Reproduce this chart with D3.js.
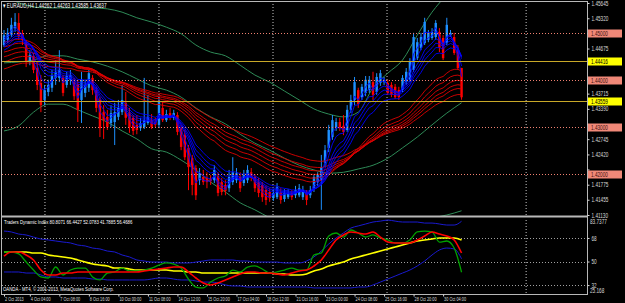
<!DOCTYPE html>
<html><head><meta charset="utf-8">
<script src="https://cdn.jsdelivr.net/npm/d3@7/dist/d3.min.js"></script>
<style>
html,body{margin:0;padding:0;background:#000;}
svg{display:block;}
text{font-family:"Liberation Sans",Arial,sans-serif;}
</style></head><body>
<svg id="c" width="625" height="303"></svg>
<script>
// ---------------- DATA ----------------
const titleText = "\u25BE EURAUD,H4  1.44262 1.44263 1.43585 1.43637";
const tdiTitle = "Traders Dynamic Index 80.8071 66.4427 52.0783 41.7885 56.4686";
const brokerText = "OANDA - MT4, \u00A9 2001-2013, MetaQuotes Software Corp.";

// H4 candles [open, high, low, close]
const candles = [
[1.4475,1.4507,1.4471,1.4496],[1.4486,1.4511,1.4479,1.4501],[1.4496,1.4533,1.4492,1.4518],[1.4511,1.4543,1.4503,1.4524],
[1.4522,1.4543,1.4486,1.4494],[1.4499,1.4507,1.4475,1.4486],[1.4481,1.4486,1.4428,1.4439],[1.4439,1.4464,1.4432,1.4454],
[1.4452,1.4458,1.4415,1.4422],[1.4426,1.4439,1.4379,1.4390],[1.4394,1.4411,1.4332,1.4347],[1.4358,1.4390,1.4347,1.4379],
[1.4375,1.4401,1.4366,1.4390],[1.4384,1.4422,1.4375,1.4411],[1.4405,1.4443,1.4390,1.4418],[1.4405,1.4464,1.4396,1.4422],
[1.4405,1.4411,1.4366,1.4373],[1.4390,1.4418,1.4384,1.4409],[1.4401,1.4422,1.4390,1.4411],[1.4396,1.4405,1.4358,1.4366],
[1.4392,1.4401,1.4311,1.4337],[1.4358,1.4418,1.4309,1.4401],[1.4373,1.4401,1.4364,1.4390],[1.4384,1.4422,1.4375,1.4415],
[1.4405,1.4411,1.4369,1.4379],[1.4379,1.4386,1.4332,1.4341],[1.4358,1.4364,1.4279,1.4298],[1.4332,1.4347,1.4275,1.4315],
[1.4322,1.4337,1.4294,1.4300],[1.4309,1.4347,1.4300,1.4330],[1.4311,1.4352,1.4262,1.4332],[1.4322,1.4358,1.4315,1.4341],
[1.4332,1.4390,1.4326,1.4358],[1.4352,1.4375,1.4305,1.4320],[1.4330,1.4341,1.4288,1.4300],[1.4320,1.4326,1.4283,1.4292],
[1.4305,1.4326,1.4285,1.4294],[1.4298,1.4320,1.4292,1.4309],[1.4300,1.4405,1.4296,1.4315],[1.4309,1.4369,1.4305,1.4322],
[1.4315,1.4328,1.4296,1.4300],[1.4311,1.4320,1.4300,1.4305],[1.4305,1.4364,1.4298,1.4354],[1.4341,1.4354,1.4311,1.4315],
[1.4315,1.4337,1.4311,1.4328],[1.4330,1.4341,1.4315,1.4320],[1.4320,1.4337,1.4315,1.4330],[1.4326,1.4332,1.4283,1.4290],
[1.4298,1.4305,1.4251,1.4258],[1.4283,1.4294,1.4230,1.4236],[1.4256,1.4262,1.4166,1.4215],[1.4234,1.4241,1.4155,1.4177],
[1.4213,1.4219,1.4145,1.4155],[1.4187,1.4213,1.4177,1.4202],[1.4194,1.4209,1.4177,1.4183],[1.4192,1.4204,1.4170,1.4183],
[1.4190,1.4198,1.4177,1.4185],[1.4187,1.4219,1.4181,1.4209],[1.4196,1.4204,1.4153,1.4160],[1.4183,1.4192,1.4155,1.4162],
[1.4177,1.4187,1.4155,1.4164],[1.4170,1.4209,1.4162,1.4194],[1.4183,1.4236,1.4177,1.4204],[1.4187,1.4213,1.4181,1.4202],
[1.4194,1.4204,1.4162,1.4170],[1.4181,1.4209,1.4175,1.4198],[1.4187,1.4219,1.4181,1.4209],[1.4204,1.4213,1.4185,1.4192],
[1.4194,1.4200,1.4162,1.4170],[1.4183,1.4192,1.4151,1.4160],[1.4177,1.4183,1.4141,1.4151],[1.4166,1.4175,1.4134,1.4145],
[1.4162,1.4170,1.4141,1.4149],[1.4149,1.4168,1.4143,1.4160],[1.4151,1.4181,1.4147,1.4173],[1.4162,1.4170,1.4137,1.4145],
[1.4147,1.4168,1.4141,1.4160],[1.4151,1.4168,1.4147,1.4160],[1.4160,1.4166,1.4145,1.4151],[1.4155,1.4175,1.4149,1.4166],
[1.4155,1.4179,1.4151,1.4170],[1.4151,1.4175,1.4145,1.4166],[1.4160,1.4166,1.4134,1.4145],[1.4155,1.4175,1.4149,1.4166],
[1.4170,1.4198,1.4162,1.4194],[1.4183,1.4204,1.4175,1.4198],[1.4187,1.4241,1.4124,1.4215],[1.4224,1.4262,1.4215,1.4251],
[1.4256,1.4305,1.4247,1.4294],[1.4279,1.4326,1.4273,1.4315],[1.4298,1.4320,1.4292,1.4311],[1.4311,1.4320,1.4292,1.4298],
[1.4303,1.4326,1.4283,1.4290],[1.4294,1.4347,1.4290,1.4337],[1.4337,1.4369,1.4330,1.4358],[1.4358,1.4407,1.4347,1.4396],
[1.4379,1.4384,1.4341,1.4349],[1.4364,1.4392,1.4358,1.4386],[1.4373,1.4409,1.4366,1.4401],[1.4379,1.4409,1.4373,1.4401],
[1.4396,1.4418,1.4358,1.4369],[1.4375,1.4415,1.4369,1.4407],[1.4394,1.4422,1.4388,1.4415],[1.4396,1.4407,1.4390,1.4401],
[1.4394,1.4401,1.4369,1.4373],[1.4390,1.4396,1.4364,1.4369],[1.4386,1.4392,1.4360,1.4364],[1.4379,1.4386,1.4358,1.4364],
[1.4379,1.4411,1.4375,1.4405],[1.4396,1.4426,1.4390,1.4418],[1.4401,1.4447,1.4396,1.4439],[1.4422,1.4501,1.4418,1.4492],
[1.4447,1.4490,1.4443,1.4481],[1.4469,1.4501,1.4464,1.4492],[1.4479,1.4533,1.4475,1.4524],[1.4486,1.4507,1.4481,1.4501],
[1.4490,1.4511,1.4486,1.4503],[1.4492,1.4528,1.4486,1.4522],[1.4503,1.4511,1.4460,1.4469],[1.4490,1.4496,1.4443,1.4447],
[1.4479,1.4533,1.4475,1.4518],[1.4496,1.4507,1.4492,1.4501],[1.4492,1.4501,1.4454,1.4458],[1.4464,1.4475,1.4422,1.4426],
[1.44262,1.44263,1.43585,1.43637]
];

// Guppy-style moving average ribbons (periods) and their values at the first visible bar
const bluePeriods = [3,5,8,10,12,15];
const blueStart   = [1.4490,1.4486,1.4479,1.4475,1.4471,1.4464];
const redPeriods  = [30,35,40,45,50,60];
const redStart    = [1.4481,1.4471,1.4460,1.4450,1.4439,1.4424];

// Bollinger bands, read every 4 bars
const bbStep = 4;
const bbUpper  = [1.4579,1.4565,1.4556,1.4554,1.4554,1.4554,1.4554,1.4552,1.4545,1.4533,1.4524,1.4513,1.4499,1.4475,1.4460,1.4452,
                  1.4432,1.4411,1.4396,1.4377,1.4358,1.4339,1.4328,1.4322,1.4332,1.4384,1.4415,1.4443,1.4496,1.4545,1.4582,1.4614];
const bbMiddle = [1.4437,1.4439,1.4443,1.4452,1.4452,1.4445,1.4439,1.4430,1.4418,1.4403,1.4388,1.4379,1.4364,1.4341,1.4322,1.4307,
                  1.4285,1.4266,1.4251,1.4234,1.4219,1.4209,1.4202,1.4204,1.4211,1.4219,1.4234,1.4256,1.4279,1.4305,1.4330,1.4352];
const bbLower  = [1.4292,1.4303,1.4332,1.4349,1.4349,1.4337,1.4324,1.4311,1.4292,1.4275,1.4254,1.4247,1.4230,1.4209,1.4183,1.4162,
                  1.4139,1.4124,1.4107,1.4092,1.4081,1.4077,1.4077,1.4081,1.4085,1.4090,1.4092,1.4098,1.4102,1.4107,1.4113,1.4122];

// horizontal objects
const roundLevels  = [1.45000,1.44000,1.43000,1.42000];
const yellowLevels = [1.44416,1.43559];

// price axis
const priceTickLabels = ["1.45645","1.45320","1.45000","1.44675","1.44355","1.44035","1.43715","1.43390","1.43065","1.42745","1.42420","1.42100","1.41775","1.41455","1.41130"];
// time axis
const timeTickBars = [0,7,15,23,31,39,47,55,63,71,79,87,95,103,111,119];
const timeLabels = ["2 Oct 2013","4 Oct 04:00","7 Oct 08:00","8 Oct 16:00","10 Oct 00:00","11 Oct 08:00","14 Oct 12:00","15 Oct 20:00","17 Oct 04:00","18 Oct 12:00","21 Oct 16:00","23 Oct 00:00","24 Oct 08:00","25 Oct 16:00","28 Oct 20:00","30 Oct 04:00"];
const gridBars = [11.1,42,72.9,103.8,141.5];

// Traders Dynamic Index (read every 2 bars)
const tdiStep = 2;
const tdiUpper = [73.3,72.6,71.0,70.3,68.7,67.2,66.5,65.7,64.9,64.2,62.6,61.9,60.3,59.6,58.0,57.3,55.0,53.5,51.2,50.4,
                  49.6,49.6,49.6,48.9,48.9,48.9,49.6,50.4,51.2,51.2,51.2,51.2,50.4,50.4,49.6,49.6,49.6,49.6,48.9,48.9,
                  48.9,50.4,53.5,58.0,63.4,68.0,71.8,75.6,77.2,78.7,80.2,80.9,81.7,80.9,80.2,80.2,80.2,79.4,79.4,78.7,77.9,77.9,80.8];
const tdiLower = [42.0,42.0,42.0,41.2,41.2,39.7,38.2,38.2,37.4,37.4,37.4,37.4,36.6,36.6,35.9,35.9,35.9,35.9,35.9,35.9,
                  36.6,37.4,37.4,36.6,35.9,35.9,35.1,34.3,34.3,33.6,32.1,31.3,31.3,30.5,30.5,30.5,30.5,30.5,30.5,30.5,
                  30.5,30.5,29.8,29.8,29.8,29.8,29.8,29.8,30.5,30.5,32.1,34.3,36.6,38.9,41.2,43.5,46.6,50.4,55.0,58.8,60.3,59.6,52.1];
const tdiBase  = [57.3,57.3,57.3,57.3,56.5,56.5,55.0,54.2,53.5,52.7,51.2,49.6,48.1,47.3,46.6,45.0,45.0,44.3,43.5,43.5,
                  43.5,43.5,43.5,42.8,42.8,42.0,42.0,41.2,41.2,41.2,41.2,41.2,41.2,41.2,41.2,41.2,41.2,40.5,40.5,39.7,
                  39.7,40.5,42.8,44.3,46.6,48.1,49.6,51.9,53.5,55.0,56.5,58.0,59.6,61.1,62.6,64.2,65.7,66.5,67.2,68.0,68.0,68.0,66.4];
const tdiSignal= [54.2,57.3,57.3,55.0,51.2,43.5,39.7,39.7,41.2,41.2,42.0,42.0,42.0,42.0,42.0,42.0,42.0,42.0,42.0,42.8,
                  43.5,44.3,45.0,45.8,45.8,42.0,37.4,33.6,32.1,33.6,35.9,38.2,40.5,42.0,42.0,41.2,41.2,40.5,39.7,41.2,
                  42.8,43.5,46.6,51.2,58.8,66.5,70.3,72.6,71.8,71.0,72.6,68.7,64.9,64.2,64.2,64.2,66.5,69.5,72.6,71.0,69.5,66.5,56.5];
const tdiRsi   = [57.3,57.3,55.8,49.6,43.5,38.2,37.4,45.8,39.7,43.5,45.0,45.0,38.2,35.9,41.2,42.0,45.0,42.8,42.8,43.5,
                  45.0,47.3,48.9,48.1,45.0,36.6,30.5,29.8,34.3,37.4,38.9,43.5,42.0,45.8,46.6,44.3,41.2,42.0,43.5,45.0,
                  43.5,43.5,55.0,56.5,69.5,71.8,68.7,74.1,71.8,68.7,70.3,68.0,66.5,64.2,64.2,66.5,72.6,73.3,72.6,64.9,65.7,60.3,41.8];
const tdiLevels = [68,50,32];
const tdiMax = 83.7377, tdiMin = 25.168;

// ---------------- DRAW ----------------
const svg = d3.select("#c");
const fg = "#d8d8d8";
const FS = 6.5, SQ = 0.72;      // font size and horizontal squeeze of MT4-like narrow text
// narrow the text horizontally by a transform anchored at the text's own x
function squeeze(sel, k){
  sel.each(function(){
    const el = d3.select(this);
    const X = +(el.attr("x")||0);
    el.attr("transform",`translate(${X*(1-k)},0) scale(${k},1)`);
  });
  return sel;
}
svg.append("rect").attr("width",625).attr("height",303).attr("fill","#000");

const axisX = 587, mainTop = 1, mainBot = 216, subTop = 217, subBot = 294;
const x = d3.scaleLinear().domain([0,158]).range([4, 4+3.69*158]);
const y = d3.scaleLinear().domain([1.41130,1.45645]).range([215,3]);
const ys = d3.scaleLinear().domain([tdiMin,tdiMax]).range([294,217.4]);

const defs = svg.append("defs");
defs.append("clipPath").attr("id","mclip").append("rect").attr("x",2).attr("y",2).attr("width",axisX-2).attr("height",mainBot-2);
defs.append("clipPath").attr("id","sclip").append("rect").attr("x",2).attr("y",subTop+1).attr("width",axisX-2).attr("height",subBot-subTop-1);

const main = svg.append("g").attr("clip-path","url(#mclip)");
const sub = svg.append("g").attr("clip-path","url(#sclip)");

// vertical grid (dotted)
[[main,mainTop,mainBot],[sub,subTop,subBot]].forEach(([g,t,b])=>{
  g.selectAll(null).data(gridBars).enter().append("line")
   .attr("x1",d=>x(d)).attr("x2",d=>x(d)).attr("y1",t).attr("y2",b)
   .attr("stroke","#c8c8c8").attr("stroke-width",1).attr("stroke-dasharray","1,2");
});

// Bollinger bands
const lineI = (step, sc) => d3.line().x((d,i)=>x(i*step)).y(d=>sc(d));
[bbUpper,bbMiddle,bbLower].forEach(arr=>{
  main.append("path").attr("d",lineI(bbStep,y).curve(d3.curveMonotoneX)(arr)).attr("fill","none").attr("stroke","#2e8b57").attr("stroke-width",1);
});

// candles
const cg = main.append("g");
candles.forEach((c,i)=>{
  const [o,h,l,cl] = c;
  const col = cl>=o ? "#1e90ff" : "#ff0000";
  cg.append("line").attr("x1",x(i)).attr("x2",x(i)).attr("y1",y(h)).attr("y2",y(l)).attr("stroke",col).attr("stroke-width",1);
  const top = y(Math.max(o,cl)), bot = y(Math.min(o,cl));
  cg.append("rect").attr("x",x(i)-1.2).attr("width",2.4).attr("y",top).attr("height",Math.max(0.8,bot-top)).attr("fill",col);
});

// ribbons (EMA of closes, continued from the values at the first visible bar)
const closes = candles.map(c=>c[3]);
function ema(period, start){
  const a = 2/(period+1); const out=[start];
  for(let i=1;i<closes.length;i++) out.push(out[i-1]+a*(closes[i]-out[i-1]));
  return out;
}
const line1 = d3.line().x((d,i)=>x(i)).y(d=>y(d));
redPeriods.forEach((p,k)=>{
  main.append("path").attr("d",line1(ema(p,redStart[k]))).attr("fill","none").attr("stroke","#e00000").attr("stroke-width",0.9);
});
bluePeriods.forEach((p,k)=>{
  main.append("path").attr("d",line1(ema(p,blueStart[k]))).attr("fill","none").attr("stroke","#0000ff").attr("stroke-width",0.9);
});

// horizontal objects
main.selectAll(null).data(roundLevels).enter().append("line")
  .attr("x1",2).attr("x2",axisX).attr("y1",d=>Math.round(y(d))+0.5).attr("y2",d=>Math.round(y(d))+0.5)
  .attr("stroke","#f08070").attr("stroke-width",1).attr("stroke-dasharray","1,2");
main.selectAll(null).data(yellowLevels).enter().append("line")
  .attr("x1",2).attr("x2",axisX).attr("y1",d=>Math.round(y(d))+0.5).attr("y2",d=>Math.round(y(d))+0.5)
  .attr("stroke","#c8a828").attr("stroke-width",1.2);

// TDI
sub.selectAll(null).data(tdiLevels).enter().append("line")
  .attr("x1",2).attr("x2",axisX).attr("y1",d=>Math.round(ys(d))+0.5).attr("y2",d=>Math.round(ys(d))+0.5)
  .attr("stroke","#a0a0a0").attr("stroke-dasharray","1,2");
const tl = lineI(tdiStep, ys).curve(d3.curveMonotoneX);
sub.append("path").attr("d",tl(tdiUpper)).attr("fill","none").attr("stroke","#1a1ad0").attr("stroke-width",1);
sub.append("path").attr("d",tl(tdiLower)).attr("fill","none").attr("stroke","#1a1ad0").attr("stroke-width",1);
sub.append("path").attr("d",tl(tdiBase)).attr("fill","none").attr("stroke","#ffff00").attr("stroke-width",1.6);
sub.append("path").attr("d",tl(tdiRsi)).attr("fill","none").attr("stroke","#00a000").attr("stroke-width",1.3);
sub.append("path").attr("d",tl(tdiSignal)).attr("fill","none").attr("stroke","#ff0000").attr("stroke-width",1.6);

// frame
const frame = svg.append("g").attr("stroke","#b8b8b8").attr("fill","none");
frame.append("line").attr("x1",1).attr("x2",axisX).attr("y1",1.5).attr("y2",1.5);
frame.append("line").attr("x1",1.5).attr("x2",1.5).attr("y1",1).attr("y2",subBot);
frame.append("line").attr("x1",1).attr("x2",axisX).attr("y1",216.5).attr("y2",216.5).attr("stroke-width",2);
frame.append("line").attr("x1",1).attr("x2",axisX).attr("y1",subBot+0.5).attr("y2",subBot+0.5);
frame.append("line").attr("x1",axisX+0.5).attr("x2",axisX+0.5).attr("y1",1).attr("y2",subBot+1);

// price axis (labels hidden behind the level tags are not printed)
const tagYs = roundLevels.concat(yellowLevels).map(v=>y(v));
const pa = svg.append("g").attr("transform",`translate(${axisX+0.5},0)`)
  .call(d3.axisRight(y).tickValues(priceTickLabels.map(Number)).tickSize(2).tickPadding(2)
        .tickFormat((d,i)=>priceTickLabels[i]));
pa.select(".domain").remove();
pa.selectAll("line").attr("stroke",fg);
pa.selectAll("text").attr("fill",fg).attr("font-size",FS).attr("font-family",null)
  .attr("display",d=>tagYs.some(t=>Math.abs(t-y(d))<6.5) ? "none" : null);
squeeze(pa.selectAll("text"), SQ);

// level labels on axis
function tag(v, bg, txtCol){
  const g = svg.append("g").attr("transform",`translate(${axisX+1},${Math.round(y(v))+0.5})`);
  g.append("rect").attr("x",0).attr("y",-4).attr("width",34).attr("height",8).attr("fill",bg);
  squeeze(g.append("text").attr("x",3).attr("y",2.3).attr("font-size",FS).attr("fill",txtCol).text(v.toFixed(5)), SQ);
}
roundLevels.forEach(v=>tag(v,"#f08878","#401010"));
yellowLevels.forEach(v=>tag(v,"#ffff00","#000"));

// TDI axis
const sa = svg.append("g").attr("transform",`translate(${axisX+0.5},0)`)
  .call(d3.axisRight(ys).tickValues(tdiLevels).tickSize(2).tickPadding(2).tickFormat(d3.format("d")));
sa.select(".domain").remove();
sa.selectAll("line").attr("stroke",fg);
sa.selectAll("text").attr("fill",fg).attr("font-size",FS).attr("font-family",null);
squeeze(sa.selectAll("text"), SQ);
squeeze(svg.append("text").attr("x",axisX+3).attr("y",224).attr("font-size",FS).attr("fill",fg).text(tdiMax.toFixed(4)), SQ);
squeeze(svg.append("text").attr("x",axisX+3).attr("y",293.5).attr("font-size",FS).attr("fill",fg).text(tdiMin.toFixed(3)), SQ);

// time axis
const ta = svg.append("g").attr("transform",`translate(0,${subBot+0.5})`)
  .call(d3.axisBottom(x).tickValues(timeTickBars).tickSize(2).tickPadding(0).tickFormat((d,i)=>timeLabels[i]));
ta.select(".domain").remove();
ta.selectAll("line").attr("stroke",fg);
ta.selectAll("text").attr("fill",fg).attr("font-size",6.2).attr("font-family",null).attr("text-anchor","start").attr("x",0.5);
squeeze(ta.selectAll("text"), 0.62);

// texts
squeeze(svg.append("text").attr("x",3).attr("y",8.5).attr("font-size",FS).attr("fill","#fff").text(titleText), SQ);
squeeze(svg.append("text").attr("x",4).attr("y",224.5).attr("font-size",6).attr("fill","#fff").text(tdiTitle), SQ);
squeeze(svg.append("text").attr("x",3).attr("y",291.5).attr("font-size",6).attr("fill","#fff").text(brokerText), SQ);
</script>
</body></html>
